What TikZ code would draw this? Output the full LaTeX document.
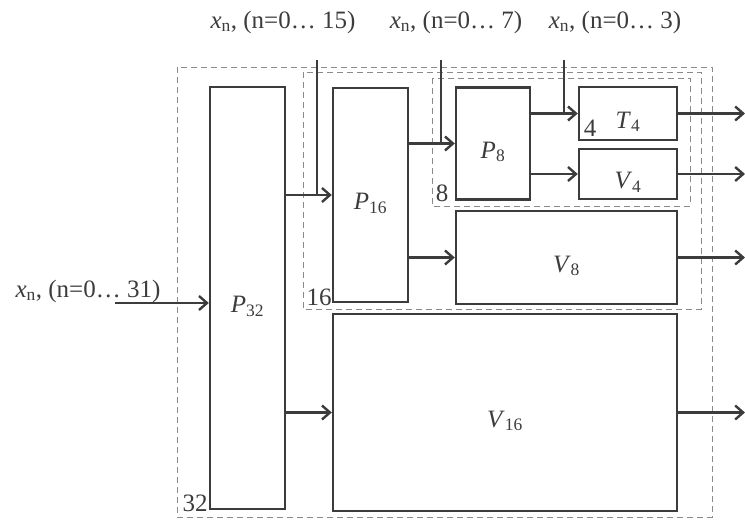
\documentclass[tikz,border=0pt]{standalone}
\usepackage{fontspec}
\setmainfont{Liberation Serif}
\usetikzlibrary{arrows.meta, positioning}
\definecolor{blkGrey}{HTML}{3C3C3C}
\definecolor{grpGrey}{HTML}{8A8A8A}

\begin{document}
\begin{tikzpicture}[
    x=1pt, y=-1pt,
    font=\fontsize{25}{28}\selectfont\color{blkGrey},
    blk/.style={rectangle, draw=blkGrey, line width=2.4pt, inner sep=0pt,
                text height=32pt, text depth=3pt},
    grp/.style={draw=grpGrey, line width=1pt, dash pattern=on 6pt off 4pt},
    flow/.style={draw=blkGrey, line width=2.4pt, -{Straight Barb[length=8pt, width=14pt]}},
    feed/.style={draw=blkGrey, line width=2.4pt},
    lvl/.style={inner sep=0pt},
  ]
    \useasboundingbox (0,0) rectangle (745,523);

    % nested groups
    \draw[grp] (177,67) rectangle (712,517);
    \draw[grp] (303,72) rectangle (701,309);
    \draw[grp] (432,78) rectangle (690,206);
    \node[lvl] (l32) at (195,503) {32};
    \node[lvl] (l16) at (319,297) {16};
    \node[lvl] (l8) at (442,193) {8};
    \node[lvl] (l4) at (590,128) {4};

    % blocks
    \node[blk, minimum width=75pt, minimum height=422pt] (P32) at (247.5,298) {\textit{P}\textsubscript{32}};
    \node[blk, minimum width=75pt, minimum height=214pt] (P16) at (370.5,195) {\textit{P}\textsubscript{16}};
    \node[blk, minimum width=74pt, minimum height=112pt] (P8) at (493,143.5) {\textit{P}\textsubscript{8}};
    \node[blk, minimum width=98pt, minimum height=53pt] (T4) at (628,113.5) {\textit{T}\textsubscript{4}};
    \node[blk, minimum width=98pt, minimum height=50pt] (V4) at (628,174) {\textit{V}\textsubscript{4}};
    \node[blk, minimum width=221pt, minimum height=93pt] (V8) at (566.5,257.5) {\textit{V}\textsubscript{8}};
    \node[blk, minimum width=344pt, minimum height=197pt] (V16) at (505,412.5) {\textit{V}\textsubscript{16}};

    % inputs
    \node (x31) at (88,291) {\textit{x}\textsubscript{n}, (n=0\ldots{} 31)};
    \node (x15) at (283,22) {\textit{x}\textsubscript{n}, (n=0\ldots{} 15)};
    \node (x7) at (456,22) {\textit{x}\textsubscript{n}, (n=0\ldots{} 7)};
    \node (x3) at (615,22) {\textit{x}\textsubscript{n}, (n=0\ldots{} 3)};
    \coordinate (xin) at (115,303);
    \coordinate (s16) at (317,60);
    \coordinate (s8) at (441,60);
    \coordinate (s4) at (564,60);
    \coordinate (out) at (745,0);

    \draw[flow] (xin) -- (xin -| P32.west);
    \draw[flow] (P16.west -| P32.east) -- (P16.west);
    \draw[flow] (V16.west -| P32.east) -- (V16.west);
    \draw[flow] (P8.west -| P16.east) -- (P8.west);
    \draw[flow] (V8.west -| P16.east) -- (V8.west);
    \draw[flow] (T4.west -| P8.east) -- (T4.west);
    \draw[flow] (V4.west -| P8.east) -- (V4.west);
    \draw[feed] (s16) -- (s16 |- P16.west);
    \draw[feed] (s8) -- (s8 |- P8.west);
    \draw[feed] (s4) -- (s4 |- T4.west);

    % outputs
    \draw[flow] (T4.east) -- (T4.east -| out);
    \draw[flow] (V4.east) -- (V4.east -| out);
    \draw[flow] (V8.east) -- (V8.east -| out);
    \draw[flow] (V16.east) -- (V16.east -| out);
  \end{tikzpicture}
\end{document}
